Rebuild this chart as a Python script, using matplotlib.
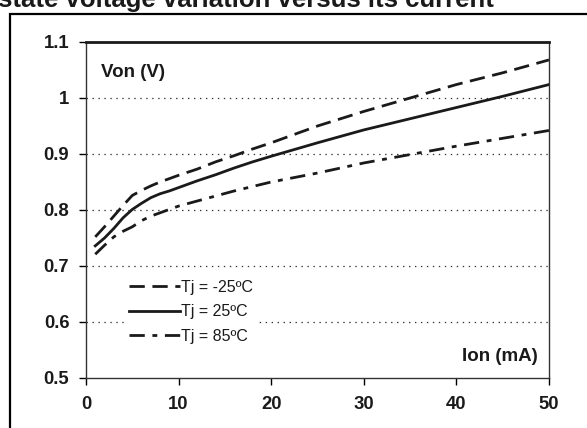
import matplotlib
matplotlib.use('Agg')
import matplotlib.pyplot as plt
from matplotlib.patches import Rectangle

plt.rcParams['font.family'] = ['Liberation Sans', 'DejaVu Sans']
plt.rcParams['lines.scale_dashes'] = False

# ----- data -----
ion = [1, 2, 3, 4, 5, 6, 7, 8, 9, 10, 12, 14, 16, 18, 20, 25, 30, 35, 40, 45, 50]
von_m25 = [0.752, 0.770, 0.789, 0.808, 0.826, 0.835, 0.843, 0.850, 0.856, 0.862, 0.873,
           0.886, 0.897, 0.909, 0.920, 0.950, 0.976, 1.000, 1.024, 1.045, 1.068]
von_25 = [0.736, 0.750, 0.767, 0.786, 0.801, 0.812, 0.822, 0.829, 0.834, 0.840, 0.852,
          0.863, 0.875, 0.886, 0.896, 0.920, 0.943, 0.963, 0.983, 1.003, 1.024]
von_85 = [0.721, 0.737, 0.752, 0.762, 0.770, 0.781, 0.789, 0.795, 0.801, 0.807, 0.816,
          0.825, 0.834, 0.842, 0.850, 0.866, 0.884, 0.899, 0.914, 0.928, 0.942]
labels = ['Tj = -25ºC', 'Tj = 25ºC', 'Tj = 85ºC']
x_ticks = [0, 10, 20, 30, 40, 50]
y_ticks = [0.5, 0.6, 0.7, 0.8, 0.9, 1.0, 1.1]
y_tick_labels = ['0.5', '0.6', '0.7', '0.8', '0.9', '1', '1.1']

W, H = 587, 428
fig = plt.figure(figsize=(W / 100, H / 100), dpi=100)

# outer frame, clipped on the right and at the bottom
fig.patches.append(Rectangle((10 / W, -0.1), 1.2, (H - 14) / H + 0.1, transform=fig.transFigure,
                             fill=False, edgecolor='black', linewidth=1.6))
# title, cut off at the top of the picture
fig.text(-2 / W, 1 - 7 / H, 'state voltage variation versus its current', fontsize=18.5,
         fontweight='bold', ha='left', va='baseline', color='#1a1a1a')

ax = fig.add_axes([86 / W, 50 / H, 463 / W, 336 / H])

ax.plot(ion, von_m25, color='#1a1a1a', lw=2, dashes=(11, 5.5), label=labels[0])
ax.plot(ion, von_25, color='#1a1a1a', lw=2, label=labels[1])
ax.plot(ion, von_85, color='#1a1a1a', lw=2, dashes=(11, 5.5, 3.5, 5.5), label=labels[2])

ax.set_xlim(0, 50)
ax.set_ylim(0.5, 1.1)
ax.set_xticks(x_ticks)
ax.set_yticks(y_ticks)
ax.set_yticklabels(y_tick_labels)
for t in ax.get_xticklabels() + ax.get_yticklabels():
    t.set_fontweight('bold')
    t.set_fontsize(13.3)
    t.set_color('#1a1a1a')
ax.tick_params(axis='y', direction='out', length=5, width=1, pad=7)
ax.tick_params(axis='x', direction='out', length=5, width=1, pad=8)

for v in y_ticks[1:-1]:
    ax.axhline(v, color='#333333', lw=0.9, linestyle=(0, (1, 3.3)), zorder=0)

for s in ax.spines.values():
    s.set_linewidth(1)
    s.set_color('#333333')
ax.spines['top'].set_linewidth(2)
ax.spines['top'].set_color('#1a1a1a')

ax.text(0.033, 0.895, 'Von (V)', transform=ax.transAxes, fontsize=13.5, fontweight='bold',
        color='#1a1a1a')
ax.text(0.975, 0.05, 'Ion (mA)', transform=ax.transAxes, fontsize=13.5, fontweight='bold',
        ha='right', color='#1a1a1a')

leg = ax.legend(loc='upper left', bbox_to_anchor=(0.066, 0.33), fontsize=11.5,
                frameon=True, fancybox=False, edgecolor='none', facecolor='white',
                framealpha=1, handlelength=3.2, handletextpad=0.05, labelspacing=0.6,
                borderpad=0.3)
for t in leg.get_texts():
    t.set_color('#1a1a1a')

fig.savefig('out.png', dpi=100)
